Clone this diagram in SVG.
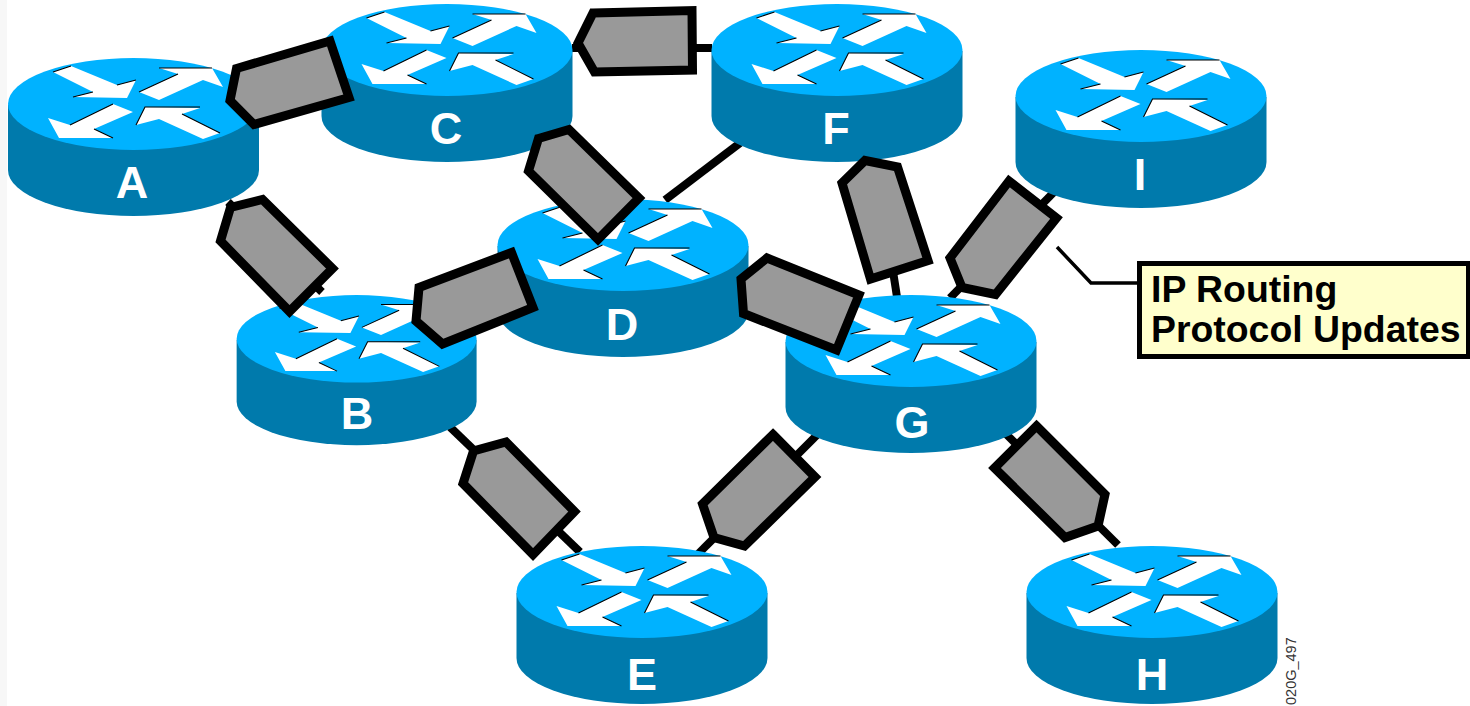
<svg xmlns="http://www.w3.org/2000/svg" width="1470" height="706" viewBox="0 0 1470 706">
<style>
.link{stroke:#000;stroke-width:8;fill:none}
.pkt{fill:#999;stroke:#000;stroke-width:9;stroke-linejoin:miter;stroke-miterlimit:4}
.side{fill:#007aac}.top{fill:#00b2ff}.arr{fill:#fff}.sh{fill:none;stroke:#000;stroke-width:1.1}
.lbl{font-family:"Liberation Sans",Arial,sans-serif;font-weight:700;font-size:45px;fill:#fff;text-anchor:middle}
.call{font-family:"Liberation Sans",Arial,sans-serif;font-weight:700;font-size:37.400px;fill:#000}
</style>
<defs>
<g id="router">
<path class="side" d="M8 105V170A125.500 46 0 0 0 259 170V105Z"/>
<ellipse class="top" cx="133.500" cy="104" rx="125.500" ry="46"/>
<polygon class="arr" points="53,72 71,66 117,85 136,80 127,98 73,97 93,92"/>
<polygon class="arr" points="139,92 178,74 159,68 212,68 223,87 203,80 159,100"/>
<polygon class="arr" points="48,118 70,125 113,104 133,112 94,129 113,138 59,138"/>
<polygon class="arr" points="136,125 145,107 200,108 182,114 220,133 203,139 159,119"/>
<path class="sh" d="M53 72L71 66M117 85L136 80M73 97L93 92M139 92L178 74M159 68H212M70 125L113 104M94 129L113 138M136 125L145 107H200M182 114L220 133"/>
</g>
</defs>
<rect width="1470" height="706" fill="#fff"/>
<rect width="7" height="706" fill="#f7f7f7"/>
<g id="connectors">
<path class="link" d="M228 202L322 292"/>
<path class="link" d="M572 48H712"/>
<path class="link" d="M740 143L665 200"/>
<path class="link" d="M1056 190L950 298"/>
<path class="link" d="M875 155L897 297"/>
<path class="link" d="M450 427L580 552"/>
<path class="link" d="M697 555L820 432"/>
<path class="link" d="M1005 433L1118 545"/>
<path d="M1057 247L1091 283H1137" fill="none" stroke="#000" stroke-width="3.500"/>
</g>
<g id="node-A"><use href="#router"/><text class="lbl" x="132" y="198">A</text></g>
<g id="node-C"><use href="#router" x="313.500" y="-54"/><text class="lbl" x="446" y="144">C</text></g>
<g id="node-F"><use href="#router" x="703.500" y="-54"/><text class="lbl" x="836" y="144">F</text></g>
<g id="node-I"><use href="#router" x="1007.500" y="-8"/><text class="lbl" x="1140" y="190">I</text></g>
<g id="node-D"><use href="#router" x="489.500" y="141"/><text class="lbl" x="622" y="340">D</text></g>
<g id="node-B"><use href="#router" transform="translate(229 240) scale(.956 .95)"/><text class="lbl" x="357" y="429">B</text></g>
<g id="node-G"><use href="#router" x="777.500" y="237"/><text class="lbl" x="912" y="438">G</text></g>
<g id="node-E"><use href="#router" x="508.500" y="488"/><text class="lbl" x="642" y="690">E</text></g>
<g id="node-H"><use href="#router" x="1018.500" y="488"/><text class="lbl" x="1152" y="690">H</text></g>
<g id="packets">
<polygon class="pkt" points="236.500,68.500 330,41 349,97.500 254,124.500 230,100.500"/>
<polygon class="pkt" points="593,13 692,10.500 692.500,70 594.500,72 578,43"/>
<polygon class="pkt" points="538.500,138.500 569,129.500 639,198 598,239.500 528.500,171"/>
<polygon class="pkt" points="865,160.500 897.500,167 928,260.500 870.500,279 842,183"/>
<polygon class="pkt" points="767,258 859,295 836.500,350 743.500,313.500 741,279"/>
<polygon class="pkt" points="511.500,252.500 533,307.500 442.500,344 416,321 419,287.500"/>
<polygon class="pkt" points="262.500,199.500 332.500,268.500 289.500,311.500 220.500,241 230.500,207.500"/>
<polygon class="pkt" points="506,442 574.500,511.500 533,554.500 463,483.500 473.500,451"/>
<polygon class="pkt" points="773,434.500 815,477 744.500,546 714,537.500 702.500,504"/>
<polygon class="pkt" points="1036.500,426 1105,494.500 1098,526 1065,537.500 994.500,468"/>
<polygon class="pkt" points="1009,181 1056.500,218 995.500,294.500 962,287.500 950,258"/>
</g>
<g id="callout">
<rect x="1139.500" y="263.500" width="329" height="93" fill="#ffc" stroke="#000" stroke-width="5"/>
<text class="call" x="1151" y="302">IP Routing</text>
<text class="call" x="1151" y="342">Protocol Updates</text>
</g>
<text transform="translate(1296 705) rotate(-90)" font-family="'Liberation Sans',Arial,sans-serif" font-size="14.500" fill="#333">020G_497</text>
</svg>
